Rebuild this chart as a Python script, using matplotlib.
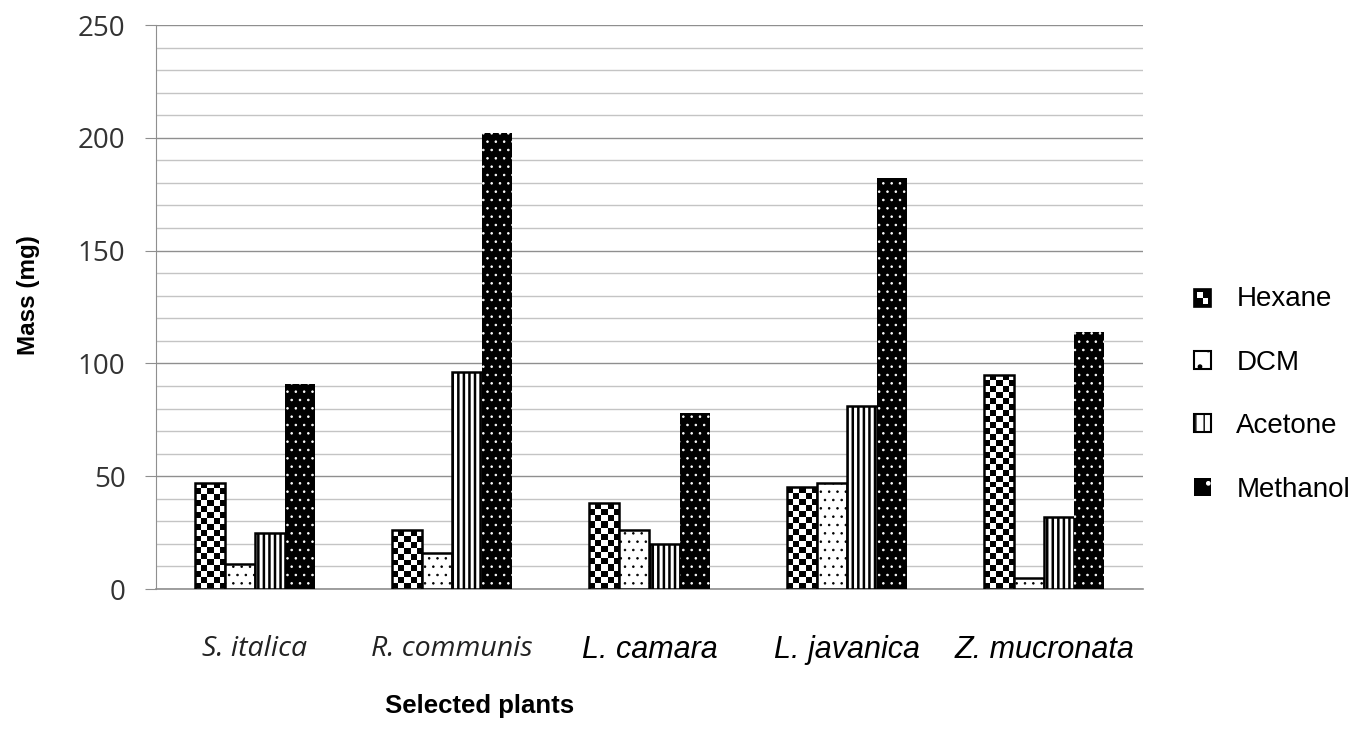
import numpy as np
import matplotlib
matplotlib.use("Agg")
from matplotlib import pyplot as plt
import matplotlib.patches as mpatches

plants = ["S. italica", "R. communis", "L. camara", "L. javanica", "Z. mucronata"]
solvents = ["Hexane", "DCM", "Acetone", "Methanol"]

hexane = [47, 26, 38, 45, 95]
dcm = [11, 16, 26, 47, 5]
acetone = [25, 96, 20, 81, 32]
methanol = [91, 202, 78, 182, 114]


class CheckerHandler:
    # small black square with white cells, like the hexane swatch
    def legend_artist(self, legend, orig_handle, fontsize, handlebox):
        x0, y0 = handlebox.xdescent, handlebox.ydescent
        w, h = handlebox.width, handlebox.height
        tr = handlebox.get_transform()
        box = mpatches.Rectangle((x0, y0), w, h, facecolor="black",
                                 edgecolor="black", linewidth=1.2, transform=tr)
        handlebox.add_artist(box)
        for i, j in [(0, 1), (1, 0)]:
            handlebox.add_artist(mpatches.Rectangle(
                (x0 + w*(0.18 + 0.32*i), y0 + h*(0.18 + 0.32*j)), w*0.32, h*0.32,
                facecolor="white", linewidth=0, transform=tr))
        return box


fig = plt.figure(figsize=(13.64, 7.42), dpi=100)
ax = fig.add_axes([156/1364, 1-589/742, 987/1364, 564/742])

x = np.arange(len(plants))
w = 0.152

# hexane: checkerboard texture inside each bar
hex_bars = ax.bar(x - 1.5*w, hexane, w, facecolor="none", edgecolor="black",
                  linewidth=1.8, zorder=3)
for r in hex_bars:
    x0, h = r.get_x(), r.get_height()
    ny = max(1, int(round(h / 2.66)))
    cells = np.indices((ny, 5)).sum(axis=0) % 2
    im = ax.imshow(cells, cmap="gray", extent=(x0, x0 + w, 0, h), origin="lower",
                   aspect="auto", interpolation="nearest", zorder=2.5)
    im.set_clip_path(r)

with plt.rc_context({"hatch.linewidth": 0.6}):
    ax.bar(x - 0.5*w, dcm, w, facecolor="white", edgecolor="black",
           linewidth=1.8, hatch="..", zorder=3)
with plt.rc_context({"hatch.linewidth": 1.8}):
    ax.bar(x + 0.5*w, acetone, w, facecolor="white", edgecolor="black",
           linewidth=1.8, hatch="|||", zorder=3)
with plt.rc_context({"hatch.color": "white", "hatch.linewidth": 0.6}):
    ax.bar(x + 1.5*w, methanol, w, facecolor="black", linewidth=0,
           hatch="..", zorder=3)
    meth_proxy = mpatches.Patch(facecolor="black", linewidth=0, hatch=".")

ax.set_xlim(-0.5, 4.5)
ax.set_ylim(0, 250)

ax.set_yticks([0, 50, 100, 150, 200, 250])
ax.set_yticks([v for v in range(10, 250, 10) if v % 50], minor=True)
ax.grid(which="major", axis="y", color="#8f8f8f", linewidth=1.0, zorder=0)
ax.grid(which="minor", axis="y", color="#c4c4c4", linewidth=1.0, zorder=0)
ax.set_axisbelow(True)
ax.tick_params(axis="y", which="major", length=8, color="#8f8f8f", pad=14,
               labelsize=20, labelcolor="#333333")
ax.tick_params(axis="y", which="minor", length=0)
for lab in ax.get_yticklabels():
    lab.set_fontfamily("Open Sans")

ax.set_xticks(x)
ax.set_xticklabels(plants)
ax.tick_params(axis="x", length=0, pad=33)
for i, lab in enumerate(ax.get_xticklabels()):
    lab.set_fontstyle("italic")
    if i < 2:
        lab.set_fontfamily("Open Sans")
        lab.set_fontsize(20.5)
        lab.set_color("#222222")
    else:
        lab.set_fontfamily("Liberation Sans")
        lab.set_fontsize(22)

for s in ["top", "right"]:
    ax.spines[s].set_visible(False)
ax.spines["left"].set_color("#8f8f8f")
ax.spines["bottom"].set_color("#8f8f8f")
ax.spines["bottom"].set_linewidth(1.2)

fig.text(28/1364, 1-295/742, "Mass (mg)", rotation=90, ha="center", va="center",
         fontsize=17.5, fontweight="bold", family="Liberation Sans")
fig.text(480/1364, 1-706/742, "Selected plants", ha="center", va="center",
         fontsize=18.5, fontweight="bold", family="Liberation Sans")

hex_proxy = mpatches.Patch(facecolor="black")
dcm_proxy = mpatches.Patch(facecolor="white", edgecolor="black", linewidth=1.5, hatch=".")
with plt.rc_context({"hatch.linewidth": 2.0}):
    ace_proxy = mpatches.Patch(facecolor="white", edgecolor="black", linewidth=1.5, hatch="||")
leg = fig.legend([hex_proxy, dcm_proxy, ace_proxy, meth_proxy], solvents,
                 loc="upper left", bbox_to_anchor=(1183/1364, 1-275/742),
                 frameon=False, handlelength=0.62, handleheight=0.62,
                 labelspacing=1.35, handletextpad=0.9, borderaxespad=0,
                 handler_map={hex_proxy: CheckerHandler()},
                 prop={"family": "Liberation Sans", "size": 20})

fig.savefig("out.png", dpi=100)
